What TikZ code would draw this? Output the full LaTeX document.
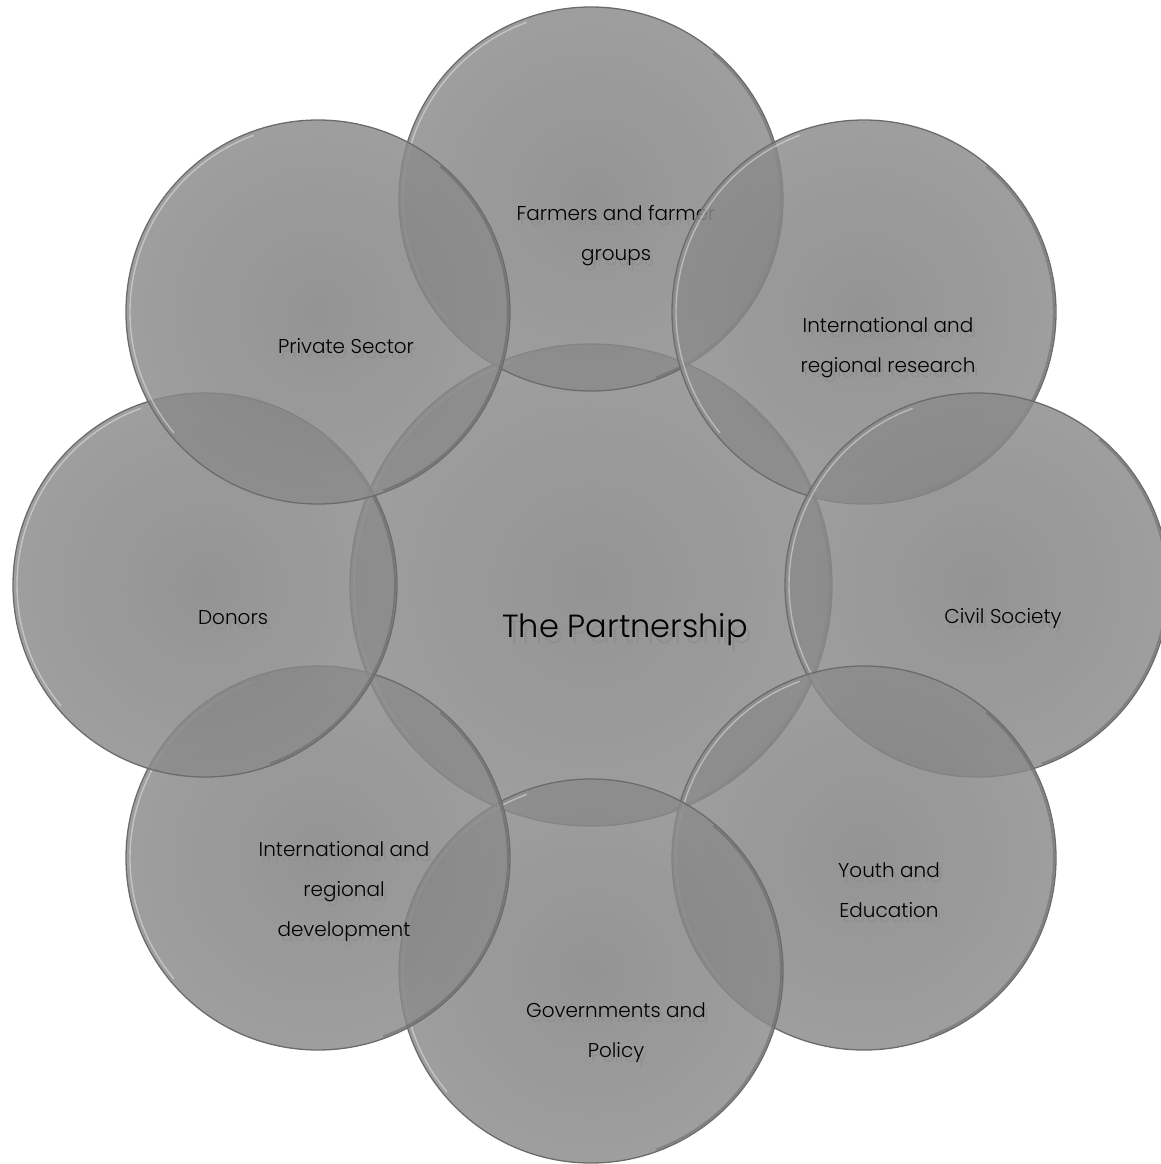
\documentclass[tikz,border=0pt]{standalone}
\usepackage{fontspec}
\setmainfont{Poppins Light}
\definecolor{cA}{gray}{0.5}
\definecolor{cB}{gray}{0.595}
\pgfdeclareradialshading{discshade}{\pgfpoint{0bp}{0bp}}{color(0bp)=(cA); color(50bp)=(cB)}
\tikzset{
  disc/.style={circle, inner sep=0pt, minimum size=#1, shading=discshade, fill opacity=0.84},
  rimline/.style={draw=black!58, line width=1.3pt},
  rimlight/.style={draw=white, line width=1.4pt, draw opacity=0.4},
  rimdark/.style={draw=black!70, line width=2pt, draw opacity=0.35},
  lbl/.style={font=\fontsize{20}{40}\selectfont, align=center, text=black, inner sep=0pt},
  lblshadow/.style={lbl, text=black!45, text opacity=0.7, xshift=3pt, yshift=-5pt},
  biglbl/.style={font=\fontsize{32}{36}\selectfont, align=center, text=black, inner sep=0pt},
  bigshadow/.style={biglbl, text=black!45, text opacity=0.7, xshift=4pt, yshift=-6pt},
}
\newcommand\ringof[2]{%
  \draw[rimline] (#1.center) circle[radius=#2];
  \draw[rimlight] (#1.center) ++(140:#2-4) arc[start angle=140,end angle=250,radius=#2-4];
  \draw[rimdark] (#1.center) ++(-50:#2-2) arc[start angle=-50,end angle=70,radius=#2-2];
}
\begin{document}
\begin{tikzpicture}[x=1pt,y=-1pt]
\useasboundingbox (0,0) rectangle (1161,1164);
% centre
\node[disc=482pt] (ctr) at (591,585) {};
\ringof{ctr}{241}
\node[bigshadow] (ctrs) at (625,630) {The Partnership};
\node[biglbl] (ctrl) at (625,630) {The Partnership};
% top
\node[disc=384pt] (ntop) at (591,199) {};
\ringof{ntop}{192}
\node[lblshadow] (ntops) at (616,236) {Farmers and farmer\\groups};
\node[lbl] (ntopl) at (616,236) {Farmers and farmer\\groups};
% top right
\node[disc=384pt] (ntr) at (864,312) {};
\ringof{ntr}{192}
\node[lblshadow] (ntrs) at (888,348) {International and\\regional research};
\node[lbl] (ntrl) at (888,348) {International and\\regional research};
% right
\node[disc=384pt] (nr) at (977,585) {};
\ringof{nr}{192}
\node[lblshadow] (nrs) at (1003,619) {Civil Society};
\node[lbl] (nrl) at (1003,619) {Civil Society};
% bottom right
\node[disc=384pt] (nbr) at (864,858) {};
\ringof{nbr}{192}
\node[lblshadow] (nbrs) at (889,890) {Youth and\\Education};
\node[lbl] (nbrl) at (889,890) {Youth and\\Education};
% bottom
\node[disc=384pt] (nb) at (591,971) {};
\ringof{nb}{192}
\node[lblshadow] (nbs) at (616,1033) {Governments and\\Policy};
\node[lbl] (nbl) at (616,1033) {Governments and\\Policy};
% bottom left
\node[disc=384pt] (nbl2) at (318,858) {};
\ringof{nbl2}{192}
\node[lblshadow] (ndevs) at (344,892) {International and\\regional\\development};
\node[lbl] (ndevl) at (344,892) {International and\\regional\\development};
% left
\node[disc=384pt] (nl) at (205,585) {};
\ringof{nl}{192}
\node[lblshadow] (nls) at (233,618) {Donors};
\node[lbl] (nll) at (233,618) {Donors};
% top left
\node[disc=384pt] (ntl) at (318,312) {};
\ringof{ntl}{192}
\node[lblshadow] (ntls) at (346,346) {Private Sector};
\node[lbl] (ntll) at (346,346) {Private Sector};
\end{tikzpicture}
\end{document}
